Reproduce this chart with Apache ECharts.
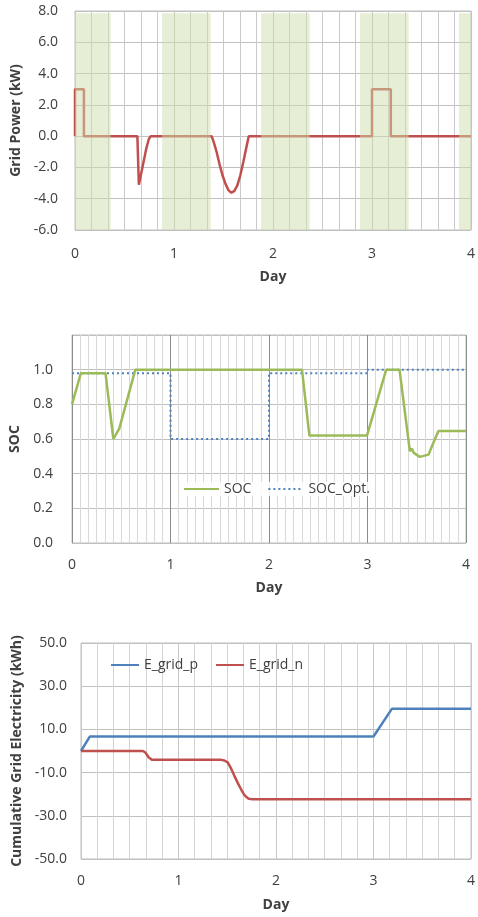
<!DOCTYPE html>
<html>
<head>
<meta charset="utf-8">
<script src="https://cdn.jsdelivr.net/npm/echarts@6/dist/echarts.min.js"></script>
<style>
html,body{margin:0;padding:0;background:#fff;}
.c{position:absolute;left:0;width:478px;}
#c1{top:0;height:300px;}
#c2{top:300px;height:310px;}
#c3{top:610px;height:307px;}
</style>
</head>
<body>
<div id="c1" class="c"></div>
<div id="c2" class="c"></div>
<div id="c3" class="c"></div>
<script>
// ---- Data ----
// Chart 1: grid power (kW)
const powerDays = [0, 0, 0.09, 0.09, 0.63, 0.645, 0.678, 0.718, 0.745, 0.765, 1.38, 1.40, 1.43, 1.46, 1.49, 1.52, 1.55, 1.58, 1.61, 1.64, 1.67, 1.70, 1.73, 1.755, 3.0, 3.0, 3.19, 3.19, 4.0];
const powerKW   = [0, 3.0, 3.0, 0, 0, -3.1, -2.1, -0.85, -0.2, 0, 0, -0.35, -1.0, -1.8, -2.5, -3.05, -3.45, -3.62, -3.5, -3.15, -2.5, -1.65, -0.75, 0, 0, 3.0, 3.0, 0, 0];
// night bands (shaded), start/end in days
const bandStarts = [0, 0.88, 1.88, 2.88, 3.88];
const bandEnds   = [0.36, 1.37, 2.37, 3.37, 4.0];
const bandBottom = -6;
const bandTop = 7.85;

// Chart 2: SOC
const socDays = [0, 0.09, 0.34, 0.42, 0.44, 0.48, 0.643, 2.335, 2.41, 2.995, 3.19, 3.325, 3.43, 3.45, 3.47, 3.53, 3.62, 3.655, 3.72, 4.0];
const socVals = [0.80, 0.98, 0.98, 0.60, 0.61, 0.66, 1.0, 1.0, 0.62, 0.62, 1.0, 1.0, 0.53, 0.545, 0.52, 0.497, 0.51, 0.56, 0.646, 0.646];
const socOptDays = [0, 1, 1, 2, 2, 3, 3, 4];
const socOptVals = [0.98, 0.98, 0.60, 0.60, 0.98, 0.98, 1.0, 1.0];

// Chart 3: cumulative grid electricity (kWh)
const ePDays = [0, 0.09, 3.0, 3.19, 4.0];
const ePVals = [0, 6.7, 6.7, 19.6, 19.6];
const eNDays = [0, 0.635, 0.66, 0.695, 0.73, 1.437, 1.47, 1.505, 1.54, 1.573, 1.61, 1.64, 1.67, 1.69, 1.72, 1.76, 4.0];
const eNVals = [0, 0, -0.7, -3.0, -4.1, -4.1, -4.4, -5.3, -8.2, -11.5, -15.0, -17.6, -20.0, -21.1, -22.1, -22.3, -22.3];

const dayTicks = [0, 1, 2, 3, 4];

// ---- helpers ----
const zip = (xs, ys) => xs.map((x, i) => [x, ys[i]]);
const FONT = 'Open Sans';
const TXT = '#404040';

function xAxisCfg(minorN, majorColor, minorColor, labelMargin, nameGap) {
  return {
    type: 'value', min: 0, max: 4, interval: 1, position: 'bottom',
    name: 'Day', nameLocation: 'middle', nameGap: nameGap,
    nameTextStyle: {fontFamily: FONT, fontSize: 14, fontWeight: 'bold', color: TXT},
    axisLine: {show: false, onZero: false}, axisTick: {show: false},
    axisLabel: {fontFamily: FONT, fontSize: 14, color: TXT, margin: labelMargin,
      formatter: v => dayTicks.includes(v) ? String(v) : ''},
    splitLine: {show: true, lineStyle: {color: majorColor, width: 1}},
    minorTick: {show: false, splitNumber: minorN},
    minorSplitLine: {show: true, lineStyle: {color: minorColor, width: 1}}
  };
}
function yAxisCfg(min, max, interval, name, nameGap, margin, fmt, color) {
  return {
    type: 'value', min: min, max: max, interval: interval,
    name: name, nameLocation: 'middle', nameGap: nameGap,
    nameTextStyle: {fontFamily: FONT, fontSize: 14, fontWeight: 'bold', color: TXT},
    axisLine: {show: false, onZero: false}, axisTick: {show: false},
    axisLabel: {fontFamily: FONT, fontSize: 14, color: TXT, margin: margin, formatter: fmt},
    splitLine: {lineStyle: {color: color}}
  };
}

// Chart 1
echarts.init(document.getElementById('c1')).setOption({
  animation: false,
  grid: {left: 75, top: 11, right: 1, height: 219, show: true, borderColor: '#bfbfbf', borderWidth: 1},
  xAxis: xAxisCfg(6, '#c4c4c4', '#cacaca', 17, 40),
  yAxis: yAxisCfg(-6, 8, 2, 'Grid Power (kW)', 50, 17, v => v.toFixed(1), '#c0c0c0'),
  series: [
    {name: 'Grid Power', type: 'line',
     data: zip(powerDays, powerKW), showSymbol: false, symbol: 'none',
     lineStyle: {color: '#c0504d', width: 2.5},
     markArea: {z: 5, itemStyle: {color: 'rgba(205,222,172,0.5)'},
       data: bandStarts.map((s, i) => [{xAxis: s, yAxis: bandBottom}, {xAxis: bandEnds[i], yAxis: bandTop}])}}
  ]
});

// Chart 2
echarts.init(document.getElementById('c2')).setOption({
  animation: false,
  grid: {left: 72, top: 35, width: 394, height: 208, show: true, borderColor: '#bfbfbf', borderWidth: 1},
  legend: {data: ['SOC', 'SOC_Opt.'], left: 183, top: 182, itemWidth: 35, itemHeight: 10, itemGap: 16,
     itemStyle: {opacity: 0},
     textStyle: {fontFamily: FONT, fontSize: 14, color: TXT}, backgroundColor: 'rgba(255,255,255,0.85)', padding: [0, 0]},
  xAxis: xAxisCfg(12, '#8c8c8c', '#d9d9d9', 15, 38),
  yAxis: yAxisCfg(0, 1.2, 0.2, 'SOC', 43, 19, v => v > 1.05 ? '' : v.toFixed(1), '#bfbfbf'),
  series: [
    {name: 'SOC', type: 'line', z: 3,
     data: zip(socDays, socVals), showSymbol: false, symbol: 'none',
     itemStyle: {color: '#9bbb59'},
     lineStyle: {color: '#9bbb59', width: 2.5}},
    {name: 'SOC_Opt.', type: 'line', z: 2,
     data: zip(socOptDays, socOptVals), showSymbol: false, symbol: 'none',
     itemStyle: {color: '#4f81bd'},
     lineStyle: {color: '#4f81bd', width: 2, type: [2, 3]}}
  ]
});

// Chart 3
echarts.init(document.getElementById('c3')).setOption({
  animation: false,
  grid: {left: 81, top: 33, right: 1, height: 217, show: true, borderColor: '#bfbfbf', borderWidth: 1},
  legend: {data: ['E_grid_p', 'E_grid_n'], left: 110, top: 48, itemWidth: 28, itemHeight: 10, itemGap: 17,
     itemStyle: {opacity: 0},
     textStyle: {fontFamily: FONT, fontSize: 14, color: TXT}, padding: [0, 0]},
  xAxis: xAxisCfg(6, '#c8c8c8', '#d4d4d4', 15, 39),
  yAxis: yAxisCfg(-50, 50, 20, 'Cumulative Grid Electricity (kWh)', 56, 14, v => v.toFixed(1), '#c0c0c0'),
  series: [
    {name: 'E_grid_p', type: 'line',
     data: zip(ePDays, ePVals), showSymbol: false, symbol: 'none',
     itemStyle: {color: '#4f81bd'},
     lineStyle: {color: '#4f81bd', width: 2.5}},
    {name: 'E_grid_n', type: 'line',
     data: zip(eNDays, eNVals), showSymbol: false, symbol: 'none',
     itemStyle: {color: '#c0504d'},
     lineStyle: {color: '#c0504d', width: 2.5}}
  ]
});
</script>
</body>
</html>
